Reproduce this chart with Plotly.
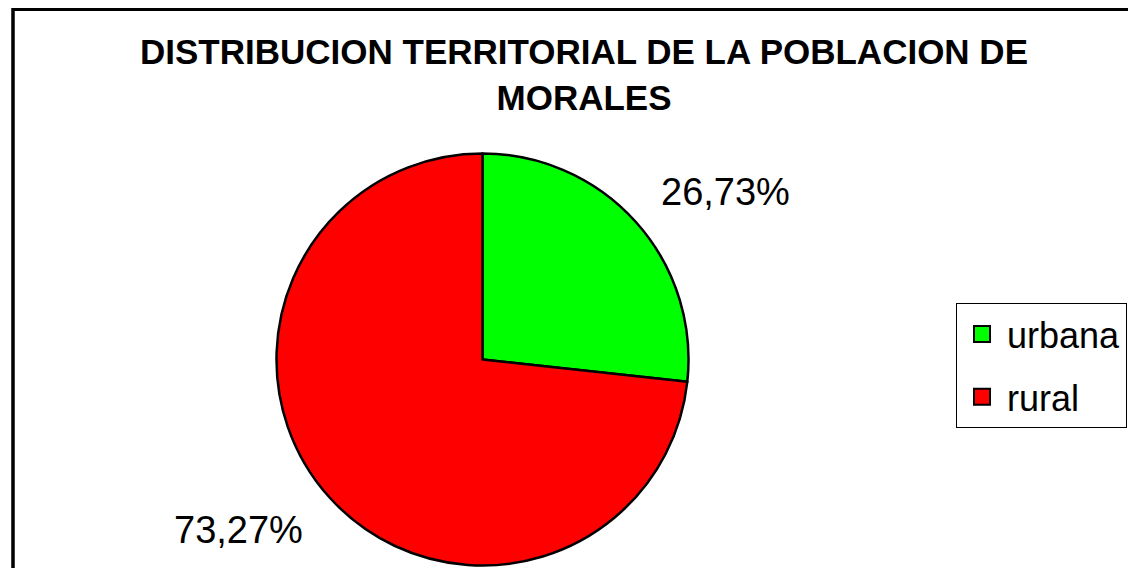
from plotly import graph_objects as go

# data
labels = ["urbana", "rural"]
values = [26.73, 73.27]
colors = ["#00ff00", "#ff0000"]
title_lines = ["DISTRIBUCION TERRITORIAL DE LA POBLACION DE", "MORALES"]

# the page body has an 8px margin; keep the figure small enough to avoid scrollbars
OFF = 8
W, H = 1136 - OFF, 576 - 2 * OFF
FONT = "Liberation Sans, Arial, sans-serif"

def px_x(x):
	"""page pixel -> paper x"""
	return (x - OFF) / W

def px_y(y):
	"""page pixel -> paper y"""
	return 1 - (y - OFF) / H

fig = go.Figure()

# the pie, urbana starting at 12 o'clock going clockwise
cx, cy, r = 482.5, 359.5, 206
fig.add_trace(
	go.Pie(
		labels = labels,
		values = values,
		sort = False,
		direction = "clockwise",
		rotation = 0,
		textinfo = "none",
		hoverinfo = "label+percent",
		showlegend = False,
		marker = dict(colors = colors, line = dict(color = "black", width = 2.5)),
		domain = dict(
			x = [px_x(cx - r), px_x(cx + r)],
			y = [max(0, px_y(cy + r)), min(1, px_y(cy - r))],
		),
	)
)

# legend entries (bigger squares + wider gaps than the pie legend allows)
for i, (lab, col) in enumerate(zip(labels, colors)):
	fig.add_trace(
		go.Scatter(
			x = [None],
			y = [None],
			name = lab,
			mode = "markers",
			legendgroup = str(i),
			marker = dict(symbol = "square", size = 20, color = col, line = dict(color = "black", width = 2)),
		)
	)

# percentage labels outside the slices
label_pos = [(725.5, 192), (238.5, 530)]
for v, (lx, ly) in zip(values, label_pos):
	fig.add_annotation(
		x = px_x(lx),
		y = px_y(ly),
		xref = "paper",
		yref = "paper",
		xanchor = "center",
		yanchor = "middle",
		text = f"{v:.2f}%".replace(".", ","),
		showarrow = False,
		font = dict(family = FONT, size = 38, color = "black"),
	)

# title
fig.add_annotation(
	x = px_x(584),
	y = px_y(74.5),
	xref = "paper",
	yref = "paper",
	xanchor = "center",
	yanchor = "middle",
	text = "<b>" + "<br>".join(title_lines) + "</b>",
	showarrow = False,
	font = dict(family = FONT, size = 35, color = "black"),
)

# chart frame: only the left and top sides show, the rest runs off the page
fig.add_shape(
	type = "path",
	xref = "paper",
	yref = "paper",
	path = f"M {px_x(13)},0 L {px_x(13)},{px_y(9.3)} L 1,{px_y(9.3)}",
	line = dict(color = "black", width = 3.5),
)

fig.update_layout(
	width = W,
	height = H,
	margin = dict(l = 0, r = 0, t = 0, b = 0, autoexpand = False),
	paper_bgcolor = "white",
	plot_bgcolor = "white",
	xaxis = dict(visible = False),
	yaxis = dict(visible = False),
	showlegend = True,
	legend = dict(
		x = px_x(956),
		xanchor = "left",
		y = px_y(303),
		yanchor = "top",
		bordercolor = "black",
		borderwidth = 1,
		bgcolor = "white",
		font = dict(family = FONT, size = 36, color = "black"),
		tracegroupgap = 13,
		itemwidth = 40,
	),
)

fig.write_html("out.html")
